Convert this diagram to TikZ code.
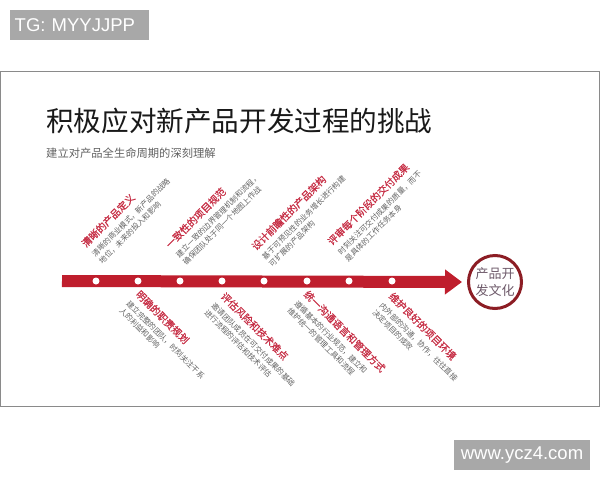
\documentclass[tikz,border=0pt]{standalone}
\usepackage{fontspec}
\setmainfont{Noto Sans CJK SC}
\newfontfamily\lat{Liberation Sans}
\newfontfamily\cjkb[FakeBold=0.6]{Noto Sans CJK SC}
\usetikzlibrary{arrows.meta}
\definecolor{barred}{HTML}{BF1E2D}
\definecolor{titlered}{HTML}{C62E45}
\definecolor{subgray}{HTML}{626262}
\definecolor{maroon}{HTML}{8C1D24}
\definecolor{circtext}{HTML}{6E5A6A}
\definecolor{wmgray}{HTML}{A8A8A8}
\definecolor{framegray}{HTML}{8A8A8A}
\tikzset{
  lbltitle/.style={anchor=base west, inner sep=0pt, transform shape, text=titlered, font=\cjkb\fontsize{10}{12}\selectfont},
  lblsub/.style={anchor=base west, inner sep=0pt, transform shape, text=subgray, font=\fontsize{7.6}{9}\selectfont},
  dot/.style={circle, fill=white, inner sep=0pt, minimum size=7pt},
  wmbox/.style={fill=wmgray, text=white, inner sep=0pt, font=\lat\fontsize{18.5}{20}\selectfont}
}
\newcommand\uplabel[5]{%
  \begin{scope}[shift={#2}, rotate=45]
    \node[lbltitle] (#1t) at (0,0) {#3};
    \node[lblsub] (#1a) at (0,13) {#4};
    \node[lblsub] (#1b) at (0,23) {#5};
  \end{scope}}
\newcommand\downlabel[5]{%
  \begin{scope}[shift={#2}, rotate=-45]
    \node[lbltitle] (#1t) at (0,0) {#3};
    \node[lblsub] (#1a) at (0,13) {#4};
    \node[lblsub] (#1b) at (0,23) {#5};
  \end{scope}}
\begin{document}
\begin{tikzpicture}[x=1pt,y=-1pt]
\useasboundingbox (0,0) rectangle (600,480);
% watermarks
\node[wmbox, anchor=west, minimum height=30pt, minimum width=139pt, text width=130pt, align=left, inner xsep=4.5pt] (tg) at (10,25) {TG: MYYJJPP};
\node[wmbox, minimum height=30pt, minimum width=136pt] (www) at (522,455) {www.ycz4.com};
% frame
\draw[framegray, line width=1pt] (0.5,71) rectangle (599.5,406);
% title
\node[anchor=base west, inner sep=0pt, text=black!90, font=\fontsize{27.6}{30}\selectfont] (title) at (46,131) {积极应对新产品开发过程的挑战};
\node[anchor=base west, inner sep=0pt, text=black!62, font=\fontsize{11.3}{13}\selectfont] (subtitle) at (46,157) {建立对产品全生命周期的深刻理解};
% culture circle
\node[circle, draw=maroon, line width=3pt, fill=white, minimum size=53pt, inner sep=0pt, align=center, text=circtext, font=\fontsize{13}{17}\selectfont] (culture) at (495,282) {产品开\\发文化};
% arrow
\coordinate (start) at (62,281);
\draw[barred, line width=12pt, -{Triangle[length=17pt, width=24pt]}, shorten >=5pt] (start) -- (culture.west);
% dots
\foreach \i/\x in {1/96,2/138,3/180,4/222,5/264,6/307,7/349,8/392}
  \node[dot] (d\i) at (\x,281) {};
% top labels
\uplabel{ta}{(86,248)}{清晰的产品定义}{清晰的商业模式，新产品的战略}{地位，未来的投入和影响}
\uplabel{tb}{(170,249)}{一致性的项目规范}{建立一致的边界管理机制和流程，}{确保团队处于同一个地图上作战}
\uplabel{tc}{(256,251)}{设计前瞻性的产品架构}{基于可预见性的业务增长进行构建}{可扩展的产品架构}
\uplabel{td}{(332,246)}{评审每个阶段的交付成果}{时刻关注可交付成果的质量，而不}{是具体的工作任务本身}
% bottom labels
\downlabel{ba}{(135,295)}{明确的职责规划}{建立完整的团队，时刻关注干系}{人的利益和影响}
\downlabel{bb}{(220,297)}{评估风险和技术难点}{邀请团队成员在可交付成果的基础}{进行流程的评估和技术评估}
\downlabel{bc}{(303,295)}{统一沟通语言和管理方式}{遵循基本的行业规范，建立和}{维护统一的管理工具和流程}
\downlabel{bd}{(388,297)}{维护良好的项目环境}{内外部的沟通，协作，往往直接}{决定项目的成败}
\end{tikzpicture}
\end{document}
